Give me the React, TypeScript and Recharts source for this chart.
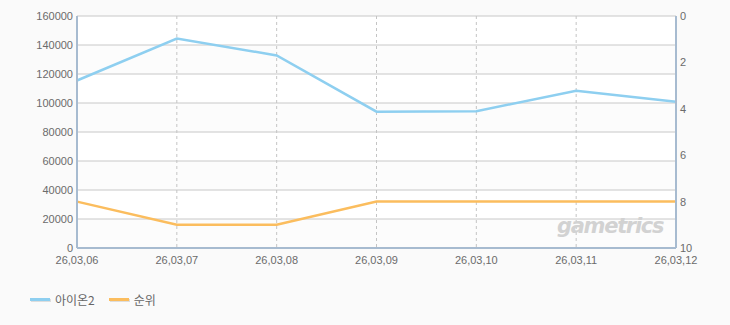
import React from "react";
import {
  LineChart,
  Line,
  XAxis,
  YAxis,
  CartesianGrid,
} from "recharts";

const dates = ["26,03,06", "26,03,07", "26,03,08", "26,03,09", "26,03,10", "26,03,11", "26,03,12"];
const aion2 = [115500, 144500, 132800, 94000, 94300, 108500, 100800];
const rank = [8, 9, 9, 8, 8, 8, 8];
const leftTicks = [0, 20000, 40000, 60000, 80000, 100000, 120000, 140000, 160000];
const rightTicks = [0, 2, 4, 6, 8, 10];

const data = dates.map((d, i) => ({ date: d, aion2: aion2[i], rank: rank[i] }));

const AXIS = "#a7bbd0";
const TICK = { fill: "#6b6b6b", fontSize: 11, fontFamily: "Liberation Sans, Arial, sans-serif" };

function LegendItem({ color, label }: { color: string; label: string }) {
  return (
    <div style={{ display: "flex", alignItems: "center", marginRight: 14 }}>
      <div style={{ position: "relative", width: 20, height: 5, marginRight: 5 }}>
        <div style={{ position: "absolute", left: 1, top: 2, width: 20, height: 3, background: "#dddddd" }} />
        <div style={{ position: "absolute", left: 0, top: 1, width: 20, height: 3, background: color }} />
      </div>
      <span style={{ fontSize: 12, color: "#666", fontFamily: "Noto Sans CJK KR, sans-serif" }}>{label}</span>
    </div>
  );
}

export default function App() {
  return (
    <div style={{ position: "absolute", left: 0, top: 0, width: 730, height: 325, background: "#fafafa" }}>
      <LineChart width={730} height={325} data={data} margin={{ top: 16, right: 0, left: 0, bottom: 47 }}>
        <CartesianGrid
          yAxisId="left"
          vertical={false}
          stroke="#c8c8c8"
          horizontalFill={["#ffffff", "#fcfcfc"]}
          fillOpacity={1}
        />
        <CartesianGrid yAxisId="left" horizontal={false} stroke="#c4c4c4" strokeDasharray="3 3" />
        <XAxis
          dataKey="date"
          axisLine={{ stroke: AXIS, strokeWidth: 2 }}
          tickLine={false}
          tickSize={0}
          tickMargin={8}
          height={30}
          tick={TICK}
          interval={0}
        />
        <XAxis xAxisId="top" dataKey="date" orientation="top" height={0} tick={false} tickLine={false} axisLine={{ stroke: AXIS, strokeWidth: 2 }} />
        <YAxis
          yAxisId="left"
          domain={[0, 160000]}
          ticks={leftTicks}
          width={77}
          axisLine={{ stroke: AXIS, strokeWidth: 2 }}
          tickLine={false}
          tickSize={0}
          tickMargin={4}
          tick={TICK}
          interval={0}
        />
        <YAxis
          yAxisId="right"
          orientation="right"
          domain={[0, 10]}
          ticks={rightTicks}
          reversed
          width={54}
          axisLine={{ stroke: AXIS, strokeWidth: 2 }}
          tickLine={false}
          tickSize={0}
          tickMargin={4}
          tick={TICK}
          interval={0}
        />
        <Line yAxisId="left" type="linear" dataKey="aion2" stroke="#8ecff0" strokeWidth={2.5} dot={false} isAnimationActive={false} />
        <Line yAxisId="right" type="linear" dataKey="rank" stroke="#fbbd5e" strokeWidth={2.5} dot={false} isAnimationActive={false} />
      </LineChart>
      <div
        style={{
          position: "absolute",
          left: 557,
          top: 214,
          fontSize: 21,
          fontWeight: "bold",
          fontStyle: "italic",
          color: "#d2d2d2",
          fontFamily: "DejaVu Sans, sans-serif",
          letterSpacing: -1.3,
        }}
      >
        gametrics
      </div>
      <div style={{ position: "absolute", left: 30, top: 291, display: "flex" }}>
        <LegendItem color="#8ecff0" label="아이온2" />
        <LegendItem color="#fbbd5e" label="순위" />
      </div>
    </div>
  );
}
